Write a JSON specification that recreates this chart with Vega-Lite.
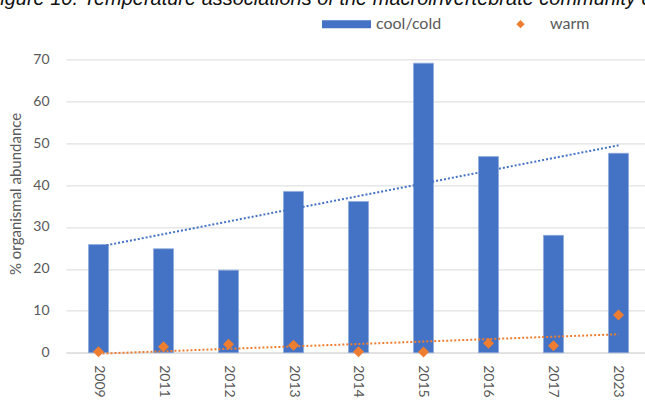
{
  "$schema": "https://vega.github.io/schema/vega-lite/v6.json",
  "width": 585,
  "height": 293.3,
  "autosize": "none",
  "padding": {"left": 66, "top": 59.4, "right": 0, "bottom": 48},
  "background": "white",
  "config": {
    "font": "Lato",
    "view": {"stroke": null},
    "axis": {"labelColor": "#595959", "titleColor": "#595959", "labelFontSize": 14, "titleFontWeight": "normal"}
  },
  "title": {
    "text": "Figure 10. Temperature associations of the macroinvertebrate community data",
    "font": "Liberation Sans",
    "fontStyle": "italic",
    "fontWeight": "normal",
    "fontSize": 20,
    "color": "#111111",
    "anchor": "start",
    "frame": "group",
    "dx": -78,
    "dy": 14
  },
  "datasets": {
    "abund": [
      {"year": "2009", "idx": 0, "cool": 25.8, "warm": 0.24},
      {"year": "2011", "idx": 1, "cool": 24.8, "warm": 1.4},
      {"year": "2012", "idx": 2, "cool": 19.7, "warm": 2.0},
      {"year": "2013", "idx": 3, "cool": 38.5, "warm": 1.75},
      {"year": "2014", "idx": 4, "cool": 36.1, "warm": 0.24},
      {"year": "2015", "idx": 5, "cool": 69.1, "warm": 0.17},
      {"year": "2016", "idx": 6, "cool": 46.8, "warm": 2.24},
      {"year": "2017", "idx": 7, "cool": 28.0, "warm": 1.67},
      {"year": "2023", "idx": 8, "cool": 47.6, "warm": 9.0}
    ]
  },
  "data": {"name": "abund"},
  "encoding": {
    "x": {
      "field": "year",
      "type": "nominal",
      "scale": {"paddingInner": 0.692, "paddingOuter": 0.346},
      "axis": {
        "title": null,
        "labelAngle": 90,
        "labelPadding": 12,
        "ticks": false,
        "domainColor": "#d9d9d9",
        "domainWidth": 1
      }
    }
  },
  "layer": [
    {
      "mark": {"type": "bar", "stroke": "#8eaadb", "strokeWidth": 0.75},
      "encoding": {
        "y": {
          "field": "cool",
          "type": "quantitative",
          "scale": {"domain": [0, 70], "nice": false},
          "axis": {
            "title": "% organismal abundance",
            "titleFontSize": 15,
            "titlePadding": 9,
            "titleY": 134,
            "values": [0, 10, 20, 30, 40, 50, 60, 70],
            "domain": false,
            "ticks": false,
            "labelPadding": 17,
            "gridColor": "#d9d9d9",
            "gridWidth": 1
          }
        },
        "color": {
          "datum": "cool/cold",
          "scale": {"domain": ["cool/cold", "warm"], "range": ["#4472c4", "#ed7d31"]},
          "legend": {
            "title": null,
            "orient": "none",
            "direction": "horizontal",
            "legendX": 256,
            "legendY": -60,
            "symbolSize": 2401,
            "symbolStrokeWidth": 0,
            "symbolOpacity": 1,
            "labelFontSize": 16,
            "labelColor": "#595959",
            "labelOffset": 5,
            "columnPadding": 54
          }
        }
      }
    },
    {
      "transform": [
        {"regression": "cool", "on": "idx"},
        {"lookup": "idx", "from": {"data": {"name": "abund"}, "key": "idx", "fields": ["year"]}}
      ],
      "mark": {"type": "line", "color": "#4472c4", "strokeWidth": 2, "strokeDash": [2, 2]},
      "encoding": {
        "y": {"field": "cool", "type": "quantitative"}
      }
    },
    {
      "transform": [
        {"regression": "warm", "on": "idx"},
        {"lookup": "idx", "from": {"data": {"name": "abund"}, "key": "idx", "fields": ["year"]}}
      ],
      "mark": {"type": "line", "color": "#ed7d31", "strokeWidth": 2, "strokeDash": [2, 2]},
      "encoding": {
        "y": {"field": "warm", "type": "quantitative"}
      }
    },
    {
      "mark": {"type": "point", "filled": true, "size": 4186, "opacity": 1, "strokeWidth": 0},
      "encoding": {
        "y": {"field": "warm", "type": "quantitative"},
        "color": {"datum": "warm"},
        "shape": {
          "datum": "warm",
          "scale": {
            "domain": ["cool/cold", "warm"],
            "range": ["M-1,-0.163H1V0.163H-1Z", "M-0.17,0L0,-0.17L0.17,0L0,0.17Z"]
          },
          "legend": {"title": null}
        }
      }
    }
  ]
}
